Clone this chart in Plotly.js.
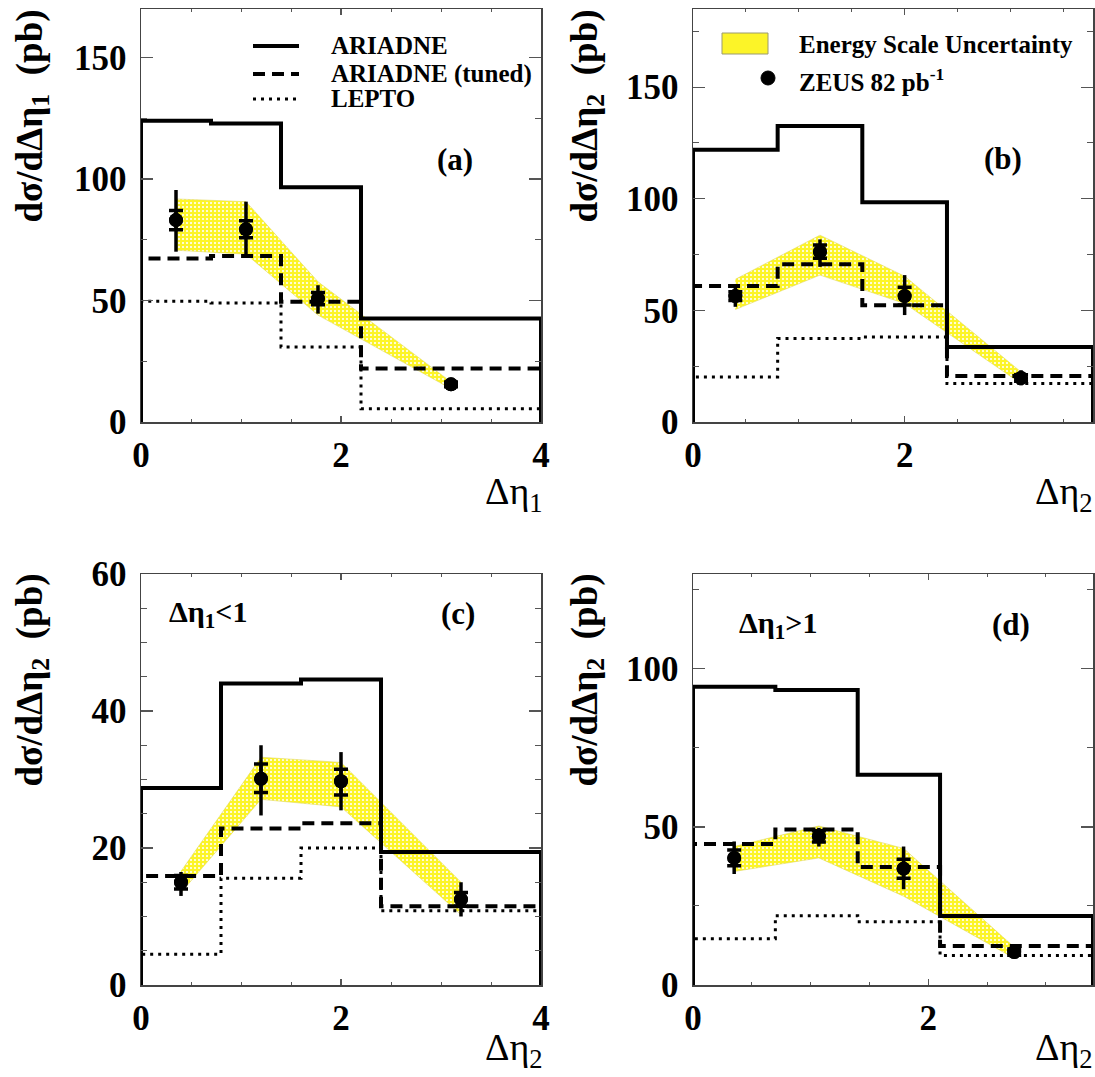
<!DOCTYPE html>
<html>
<head>
<meta charset="utf-8">
<script src="https://cdn.plot.ly/plotly-3.0.1.min.js"></script>
<style>html,body{margin:0;padding:0;background:#fff;}#chart{width:1095px;height:1077px;}</style>
</head>
<body>
<div id="chart"></div>
<script>
// ---------- Panel (a): dsigma/dDeta1 ----------
const aEdges   = [0, 0.7, 1.4, 2.2, 4.0];
const aAriadne = [124.0, 122.9, 96.6, 42.6];
const aTuned   = [67.3, 68.3, 49.5, 22.0];
const aLepto   = [49.7, 49.0, 30.9, 5.5];
const aX       = [0.35, 1.05, 1.77, 3.1];
const aY       = [83.1, 79.3, 50.8, 15.5];
const aTotUp   = [12.4, 11.4, 5.5, 1.5];
const aTotDn   = [13.0, 10.6, 6.2, 1.5];
const aStatUp  = [4.0, 3.5, 2.5, 1.0];
const aStatDn  = [4.0, 3.5, 2.5, 1.0];
const aBandHi  = [91.8, 90.7, 57.7, 16.5];
const aBandLo  = [70.7, 69.1, 44.0, 13.7];

// ---------- Panel (b): dsigma/dDeta2 ----------
const bEdges   = [0, 0.8, 1.6, 2.4, 3.78];
const bAriadne = [121.9, 132.6, 98.4, 33.6];
const bTuned   = [60.9, 70.7, 52.3, 20.6];
const bLepto   = [20.2, 37.4, 38.1, 17.2];
const bX       = [0.4, 1.2, 2.0, 3.1];
const bY       = [56.4, 76.3, 56.4, 19.7];
const bTotUp   = [4.9, 5.5, 9.4, 3.5];
const bTotDn   = [4.8, 6.8, 8.5, 3.3];
const bStatUp  = [2.0, 3.0, 4.0, 1.5];
const bStatDn  = [2.0, 3.0, 4.0, 1.5];
const bBandHi  = [63.9, 83.7, 65.3, 22.4];
const bBandLo  = [50.4, 65.8, 53.1, 17.2];

// ---------- Panel (c): dsigma/dDeta2, Deta1<1 ----------
const cEdges   = [0, 0.8, 1.6, 2.4, 4.0];
const cAriadne = [28.75, 44.0, 44.6, 19.4];
const cTuned   = [15.9, 22.85, 23.6, 11.5];
const cLepto   = [4.5, 15.6, 20.0, 10.85];
const cX       = [0.4, 1.2, 2.0, 3.2];
const cY       = [15.0, 30.1, 29.75, 12.5];
const cTotUp   = [1.5, 4.9, 4.25, 2.5];
const cTotDn   = [2.0, 5.35, 4.25, 2.5];
const cStatUp  = [1.0, 2.15, 1.75, 1.0];
const cStatDn  = [1.0, 2.0, 2.0, 1.0];
const cBandHi  = [16.6, 33.25, 32.5, 15.0];
const cBandLo  = [13.5, 27.1, 26.0, 10.25];

// ---------- Panel (d): dsigma/dDeta2, Deta1>1 ----------
const dEdges   = [0, 0.7, 1.4, 2.1, 3.4];
const dAriadne = [94.3, 93.3, 66.5, 21.8];
const dTuned   = [44.6, 49.2, 37.3, 12.3];
const dLepto   = [14.6, 21.9, 20.0, 9.3];
const dX       = [0.35, 1.07, 1.79, 2.73];
const dY       = [40.2, 47.0, 36.8, 10.4];
const dTotUp   = [5.2, 2.7, 7.0, 1.5];
const dTotDn   = [5.1, 3.2, 6.5, 1.5];
const dStatUp  = [2.5, 1.8, 3.0, 1.0];
const dStatDn  = [2.5, 1.8, 3.0, 1.0];
const dBandHi  = [43.8, 50.3, 43.2, 12.0];
const dBandLo  = [35.9, 40.2, 28.1, 8.5];

// Labels
const modelNames = ['ARIADNE', 'ARIADNE (tuned)', 'LEPTO'];
const bandName = 'Energy Scale Uncertainty';
const dataName = 'ZEUS 82 pb<sup>-1</sup>';
const panelLabels = ['(a)', '(b)', '(c)', '(d)'];

const SERIF = 'Liberation Serif, Times New Roman, serif';
const BAND_COLOR = '#fcf428';
const DASH_TUNED = '12px,7px';
const DASH_LEPTO = '3px,5px';

function histo(edges, vals) {
  const x = [edges[0], edges[0]];
  const y = [0, vals[0]];
  for (let i = 1; i < vals.length; i++) { x.push(edges[i]); y.push(vals[i]); }
  x.push(edges[edges.length - 1]); y.push(vals[vals.length - 1]);
  x.push(edges[edges.length - 1]); y.push(0);
  return {x, y};
}

const traces = [];
function addPanel(k, edges, ari, tun, lep, px, py, tu, td, su, sd, bh, bl) {
  const xa = k === 1 ? 'x' : 'x' + k;
  const ya = k === 1 ? 'y' : 'y' + k;
  traces.push({
    type: 'scatter', mode: 'lines', xaxis: xa, yaxis: ya,
    x: px.concat(px.slice().reverse()),
    y: bh.concat(bl.slice().reverse()),
    fill: 'toself', fillcolor: BAND_COLOR,
    fillpattern: {shape: '.', bgcolor: BAND_COLOR, fgcolor: '#ffffff', size: 4, solidity: 0.22},
    line: {width: 0.6, color: '#e0d860'},
    name: bandName, showlegend: false, hoverinfo: 'skip'
  });
  const hL = histo(edges, lep), hT = histo(edges, tun), hA = histo(edges, ari);
  traces.push({type: 'scatter', mode: 'lines', xaxis: xa, yaxis: ya, x: hL.x, y: hL.y,
    line: {shape: 'hv', color: '#000', width: 3, dash: DASH_LEPTO}, name: modelNames[2], showlegend: false});
  traces.push({type: 'scatter', mode: 'lines', xaxis: xa, yaxis: ya, x: hT.x, y: hT.y,
    line: {shape: 'hv', color: '#000', width: 4, dash: DASH_TUNED}, name: modelNames[1], showlegend: false});
  traces.push({type: 'scatter', mode: 'lines', xaxis: xa, yaxis: ya, x: hA.x, y: hA.y,
    line: {shape: 'hv', color: '#000', width: 4}, name: modelNames[0], showlegend: false});
  traces.push({type: 'scatter', mode: 'markers', xaxis: xa, yaxis: ya, x: px, y: py,
    marker: {size: 14, color: '#000'},
    error_y: {type: 'data', symmetric: false, array: tu, arrayminus: td, color: '#000', thickness: 3.5, width: 0},
    name: dataName, showlegend: false});
  traces.push({type: 'scatter', mode: 'markers', xaxis: xa, yaxis: ya, x: px, y: py,
    marker: {size: 14, color: '#000'},
    error_y: {type: 'data', symmetric: false, array: su, arrayminus: sd, color: '#000', thickness: 3.5, width: 7},
    showlegend: false, hoverinfo: 'skip'});
}

addPanel(1, aEdges, aAriadne, aTuned, aLepto, aX, aY, aTotUp, aTotDn, aStatUp, aStatDn, aBandHi, aBandLo);
addPanel(2, bEdges, bAriadne, bTuned, bLepto, bX, bY, bTotUp, bTotDn, bStatUp, bStatDn, bBandHi, bBandLo);
addPanel(3, cEdges, cAriadne, cTuned, cLepto, cX, cY, cTotUp, cTotDn, cStatUp, cStatDn, cBandHi, cBandLo);
addPanel(4, dEdges, dAriadne, dTuned, dLepto, dX, dY, dTotUp, dTotDn, dStatUp, dStatDn, dBandHi, dBandLo);

const W = 1095, H = 1077;
const colL = [141 / W, 541 / W], colR = [693 / W, 1093 / W];
const rowT = [1 - 422 / H, 1 - 9 / H], rowB = [1 - 985 / H, 1 - 574 / H];
const tickFont = {family: SERIF, size: 35, color: '#000', weight: 'bold'};

function xax(domain, anchor, range) {
  return {domain, anchor, range, dtick: 2, tick0: 0, showgrid: false, zeroline: false,
    showline: true, linecolor: '#444', linewidth: 1.5, mirror: 'ticks',
    ticks: 'inside', ticklen: 6, tickwidth: 1.2, tickcolor: '#555',
    minor: {ticks: 'inside', ticklen: 3, dtick: 0.5, tick0: 0, tickcolor: '#555', tickwidth: 1},
    tickfont: tickFont, ticklabelstandoff: 1, fixedrange: true};
}
function yax(domain, anchor, range, dt, mdt) {
  return {domain, anchor, range, dtick: dt, tick0: 0, showgrid: false, zeroline: false,
    showline: true, linecolor: '#444', linewidth: 1.5, mirror: 'ticks',
    ticks: 'inside', ticklen: 12, tickwidth: 1.2, tickcolor: '#555',
    minor: {ticks: 'inside', ticklen: 6, dtick: mdt, tick0: 0, tickcolor: '#555', tickwidth: 1},
    tickfont: tickFont, ticklabelstandoff: 6, fixedrange: true};
}

const yTitle = 'dσ/dΔη<sub>%</sub> &nbsp;(pb)';
const ann = [];
const shapes = [];
function yTitleAnn(xpx, topPx, sub) {
  ann.push({xref: 'paper', yref: 'paper', x: xpx / W, y: 1 - topPx / H, xanchor: 'center', yanchor: 'top',
    text: yTitle.replace('%', sub), textangle: -90, showarrow: false,
    font: {family: SERIF, size: 37, color: '#000', weight: 'bold'}});
}
yTitleAnn(32, 8, '1');
yTitleAnn(587, 8, '2');
yTitleAnn(32, 572, '2');
yTitleAnn(587, 572, '2');
function xTitleAnn(rightPx, bottomPx, sub) {
  ann.push({xref: 'paper', yref: 'paper', x: rightPx / W, y: 1 - bottomPx / H, xanchor: 'right', yanchor: 'bottom',
    text: 'Δη<sub>' + sub + '</sub>', showarrow: false,
    font: {family: SERIF, size: 38, color: '#000'}});
}
xTitleAnn(545, 520, '1');
xTitleAnn(1095, 520, '2');
xTitleAnn(545, 1076, '2');
xTitleAnn(1095, 1076, '2');
const lblFont = {family: SERIF, size: 31, color: '#000', weight: 'bold'};
ann.push({xref: 'x', yref: 'y', x: 3.14, y: 108, text: panelLabels[0], showarrow: false, font: lblFont});
ann.push({xref: 'x2', yref: 'y2', x: 2.93, y: 118, text: panelLabels[1], showarrow: false, font: lblFont});
ann.push({xref: 'x3', yref: 'y3', x: 3.17, y: 54.2, text: panelLabels[2], showarrow: false, font: lblFont});
ann.push({xref: 'x4', yref: 'y4', x: 2.7, y: 114, text: panelLabels[3], showarrow: false, font: lblFont});
const condFont = {family: SERIF, size: 30, color: '#000', weight: 'bold'};
ann.push({xref: 'x3', yref: 'y3', x: 0.26, y: 54.2, xanchor: 'left', text: 'Δη<sub>1</sub><1', showarrow: false, font: condFont});
ann.push({xref: 'x4', yref: 'y4', x: 0.37, y: 114, xanchor: 'left', text: 'Δη<sub>1</sub>>1', showarrow: false, font: condFont});

// ---------- legends (drawn as keys in paper space) ----------
const legFont = {family: SERIF, size: 25, color: '#000', weight: 'bold'};
const legRowsA = [46, 74, 99];
const legStyles = [{dash: 'solid', width: 4}, {dash: DASH_TUNED, width: 4}, {dash: DASH_LEPTO, width: 3}];
modelNames.forEach((nm, i) => {
  const yy = 1 - legRowsA[i] / H;
  shapes.push({type: 'line', xref: 'paper', yref: 'paper', x0: 253 / W, x1: 299 / W, y0: yy, y1: yy,
    line: {color: '#000', width: legStyles[i].width, dash: legStyles[i].dash}});
  ann.push({xref: 'paper', yref: 'paper', x: 329 / W, y: yy, xanchor: 'left', yanchor: 'middle',
    text: nm, showarrow: false, font: legFont});
});
shapes.push({type: 'rect', xref: 'paper', yref: 'paper', x0: 722 / W, x1: 768 / W, y0: 1 - 54 / H, y1: 1 - 33 / H,
  fillcolor: BAND_COLOR, line: {color: '#9a9a70', width: 1}});
ann.push({xref: 'paper', yref: 'paper', x: 797 / W, y: 1 - 44 / H, xanchor: 'left', yanchor: 'middle',
  text: bandName, showarrow: false, font: legFont});
shapes.push({type: 'circle', xref: 'paper', yref: 'paper', x0: 761 / W, x1: 775 / W, y0: 1 - 85 / H, y1: 1 - 71 / H,
  fillcolor: '#000', line: {color: '#000', width: 1}});
ann.push({xref: 'paper', yref: 'paper', x: 797 / W, y: 1 - 80 / H, xanchor: 'left', yanchor: 'middle',
  text: dataName, showarrow: false, font: legFont});

const layout = {
  width: W, height: H, margin: {l: 0, r: 0, t: 0, b: 0},
  paper_bgcolor: '#fff', plot_bgcolor: '#fff', showlegend: false,
  xaxis: xax(colL, 'y', [0, 4]),
  yaxis: yax(rowT, 'x', [0, 170], 50, 25),
  xaxis2: xax(colR, 'y2', [0, 3.78]),
  yaxis2: yax(rowT, 'x2', [0, 185], 50, 25),
  xaxis3: xax(colL, 'y3', [0, 4]),
  yaxis3: yax(rowB, 'x3', [0, 60], 20, 5),
  xaxis4: xax(colR, 'y4', [0, 3.4]),
  yaxis4: yax(rowB, 'x4', [0, 130], 50, 25),
  annotations: ann,
  shapes: shapes
};

Plotly.newPlot('chart', traces, layout, {staticPlot: true, displayModeBar: false});
</script>
</body>
</html>
